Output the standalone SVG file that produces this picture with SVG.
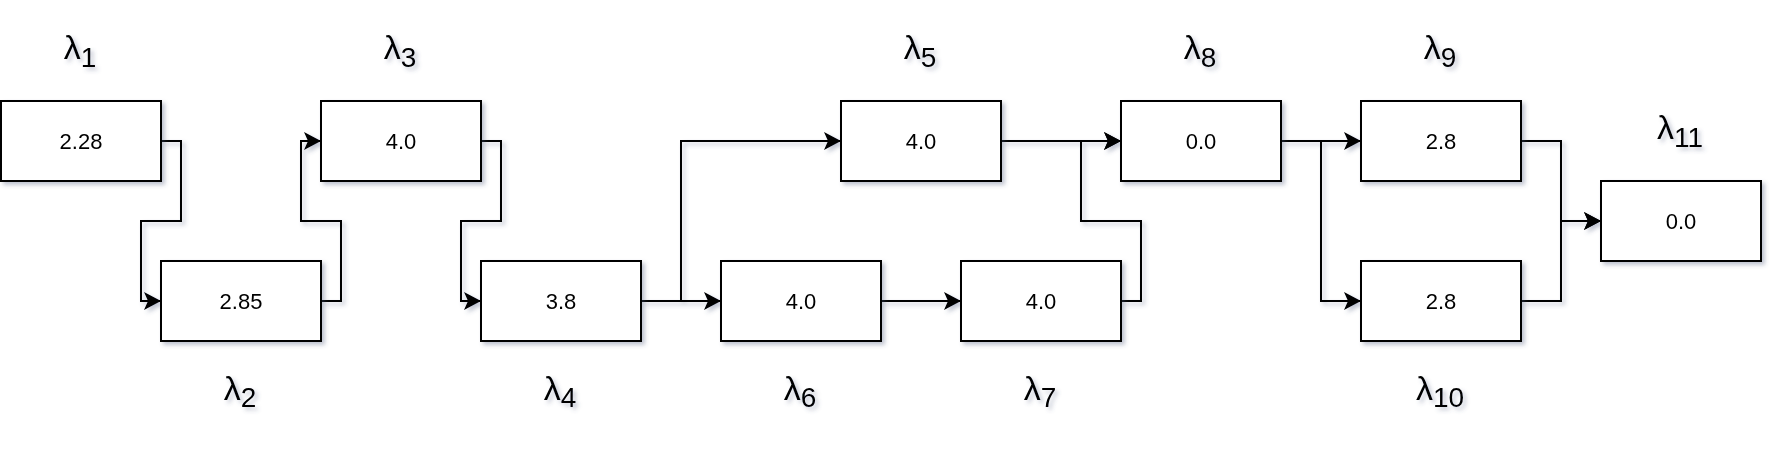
<svg xmlns="http://www.w3.org/2000/svg" width="1784" height="464" viewBox="0 0 1784 464">
<style>
  .box { fill: #ffffff; stroke: #000000; stroke-width: 2; }
  .num { font-family: "Liberation Sans", Arial, sans-serif; font-size: 22px; fill: #000000; text-anchor: middle; }
  .lam { font-family: "Liberation Sans", Arial, sans-serif; font-size: 34px; fill: #000000; text-anchor: middle; }
  .sub { font-size: 28px; }
  .edge { fill: none; stroke: #000000; stroke-width: 2; marker-end: url(#arrow); }
</style>
<defs>
  <filter id="shadow" x="-20%" y="-20%" width="150%" height="160%">
    <feDropShadow dx="3" dy="3" stdDeviation="2" flood-color="#46527a" flood-opacity="0.35"/>
  </filter>
  <marker id="arrow" viewBox="0 0 17 18" refX="17" refY="9" markerWidth="17" markerHeight="18" markerUnits="userSpaceOnUse" orient="auto">
    <path d="M0,0 L17,9 L0,18 L4,9 Z" fill="#000000"/>
  </marker>
</defs>
<rect width="1784" height="464" fill="#ffffff"/>
<g id="connectors" filter="url(#shadow)">
  <path class="edge" d="M161,141 H181 V221 H141 V301 H161"/>
  <path class="edge" d="M321,301 H341 V221 H301 V141 H321"/>
  <path class="edge" d="M481,141 H501 V221 H461 V301 H481"/>
  <path class="edge" d="M641,301 H721"/>
  <path class="edge" d="M641,301 H681 V141 H841"/>
  <path class="edge" d="M881,301 H961"/>
  <path class="edge" d="M1001,141 H1121"/>
  <path class="edge" d="M1121,301 H1141 V221 H1081 V141 H1121"/>
  <path class="edge" d="M1281,141 H1361"/>
  <path class="edge" d="M1281,141 H1321 V301 H1361"/>
  <path class="edge" d="M1521,141 H1561 V221 H1601"/>
  <path class="edge" d="M1521,301 H1561 V221 H1601"/>
</g>
<g id="n1" filter="url(#shadow)">
  <rect class="box" x="1" y="101" width="160" height="80"/>
  <text class="num" x="81" y="149">2.28</text>
  <text class="lam" x="80" y="59">λ<tspan class="sub" dy="8">1</tspan></text>
</g>
<g id="n2" filter="url(#shadow)">
  <rect class="box" x="161" y="261" width="160" height="80"/>
  <text class="num" x="241" y="309">2.85</text>
  <text class="lam" x="240" y="400">λ<tspan class="sub" dy="7">2</tspan></text>
</g>
<g id="n3" filter="url(#shadow)">
  <rect class="box" x="321" y="101" width="160" height="80"/>
  <text class="num" x="401" y="149">4.0</text>
  <text class="lam" x="400" y="59">λ<tspan class="sub" dy="8">3</tspan></text>
</g>
<g id="n4" filter="url(#shadow)">
  <rect class="box" x="481" y="261" width="160" height="80"/>
  <text class="num" x="561" y="309">3.8</text>
  <text class="lam" x="560" y="400">λ<tspan class="sub" dy="7">4</tspan></text>
</g>
<g id="n5" filter="url(#shadow)">
  <rect class="box" x="841" y="101" width="160" height="80"/>
  <text class="num" x="921" y="149">4.0</text>
  <text class="lam" x="920" y="59">λ<tspan class="sub" dy="8">5</tspan></text>
</g>
<g id="n6" filter="url(#shadow)">
  <rect class="box" x="721" y="261" width="160" height="80"/>
  <text class="num" x="801" y="309">4.0</text>
  <text class="lam" x="800" y="400">λ<tspan class="sub" dy="7">6</tspan></text>
</g>
<g id="n7" filter="url(#shadow)">
  <rect class="box" x="961" y="261" width="160" height="80"/>
  <text class="num" x="1041" y="309">4.0</text>
  <text class="lam" x="1040" y="400">λ<tspan class="sub" dy="7">7</tspan></text>
</g>
<g id="n8" filter="url(#shadow)">
  <rect class="box" x="1121" y="101" width="160" height="80"/>
  <text class="num" x="1201" y="149">0.0</text>
  <text class="lam" x="1200" y="59">λ<tspan class="sub" dy="8">8</tspan></text>
</g>
<g id="n9" filter="url(#shadow)">
  <rect class="box" x="1361" y="101" width="160" height="80"/>
  <text class="num" x="1441" y="149">2.8</text>
  <text class="lam" x="1440" y="59">λ<tspan class="sub" dy="8">9</tspan></text>
</g>
<g id="n10" filter="url(#shadow)">
  <rect class="box" x="1361" y="261" width="160" height="80"/>
  <text class="num" x="1441" y="309">2.8</text>
  <text class="lam" x="1440" y="400">λ<tspan class="sub" dy="7">10</tspan></text>
</g>
<g id="n11" filter="url(#shadow)">
  <rect class="box" x="1601" y="181" width="160" height="80"/>
  <text class="num" x="1681" y="229">0.0</text>
  <text class="lam" x="1680" y="139">λ<tspan class="sub" dy="8">11</tspan></text>
</g>
</svg>
